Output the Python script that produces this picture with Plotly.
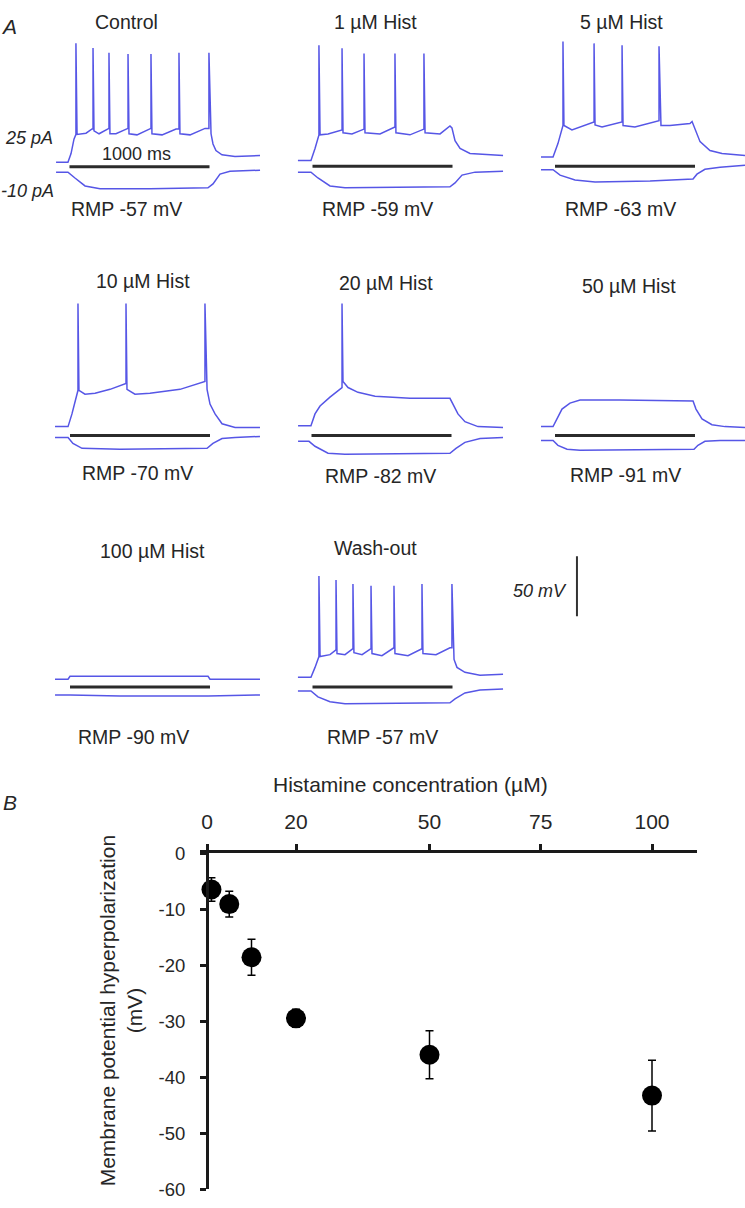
import plotly.graph_objects as go

# ---------------- DATA ----------------
# Panel A: membrane potential traces, time in ms relative to current-step onset,
# voltage in mV relative to the stimulus bar level (display offsets as in figure).
ctrl_up_t = [-96, -11, 11, 32, 46, 46, 54, 75, 118, 161, 168, 168, 175, 211, 261, 282, 282, 289, 332, 396, 418, 418, 425, 482, 561, 582, 582, 589, 661, 761, 782, 782, 789, 861, 968, 996, 996, 1011, 1025, 1046, 1089, 1182, 1361]
ctrl_up_v = [3.7, 3.7, 11, 23, 27, 103, 27, 27.5, 28, 31.5, 31.5, 99, 30, 27.5, 31, 32, 95, 27.5, 27.5, 31, 32, 94, 27.5, 26.6, 31, 32, 94, 27.5, 26.6, 31.5, 31.5, 95, 27.5, 26.6, 32, 32, 95, 27.5, 19, 13.5, 10, 8.6, 9.4]
ctrl_lo_t = [-96, -11, 39, 111, 218, 575, 989, 1025, 1075, 1146, 1361]
ctrl_lo_v = [-4.5, -4.5, -9.4, -16, -18.4, -18.4, -17.6, -14.3, -6.1, -3.7, -2.9]

h1_up_t = [-104, -11, 18, 46, 46, 54, 111, 204, 211, 211, 218, 282, 361, 368, 368, 375, 482, 582, 589, 589, 596, 696, 789, 796, 796, 804, 911, 982, 996, 1018, 1054, 1125, 1361]
h1_up_v = [4.9, 4.9, 14.8, 26.2, 101, 26.2, 27, 30.3, 30.3, 98.4, 27.9, 27, 31, 31, 94, 27.9, 27, 32.8, 32.8, 94, 27.9, 26.2, 31, 31, 94, 27.9, 27, 33.6, 32, 21.3, 14.8, 10.7, 9]
h1_lo_t = [-104, -11, 39, 125, 232, 982, 1018, 1068, 1161, 1361]
h1_lo_v = [-4.9, -4.9, -9.8, -16.4, -18, -17.2, -13.9, -7.4, -4.9, -4.1]

h5_up_t = [-100, -14, 21, 57, 57, 64, 121, 271, 279, 279, 286, 336, 464, 479, 479, 486, 571, 729, 743, 743, 757, 821, 964, 979, 1000, 1036, 1107, 1193, 1357]
h5_up_v = [7.8, 7.8, 18.9, 34, 104, 34, 30.3, 37, 37, 102.5, 34.4, 32.8, 37, 37, 101, 34, 32.8, 38, 38, 100, 34, 34, 35.7, 37.3, 31.5, 20.5, 13.1, 10.7, 9]
h5_lo_t = [-100, -14, 36, 143, 286, 679, 986, 1014, 1071, 1179, 1357]
h5_lo_v = [-2.9, -2.9, -7.4, -11.5, -13.1, -12.3, -10.7, -6.6, -2.5, -0.8, 0.8]

h10_up_t = [-107, -14, 14, 43, 57, 57, 64, 107, 179, 286, 393, 400, 400, 407, 464, 571, 786, 957, 964, 964, 979, 1000, 1036, 1086, 1179, 1357]
h10_up_v = [7.4, 7.4, 18, 32.8, 37.7, 110, 37.7, 34.4, 35.2, 38.5, 43.4, 43.4, 110, 38.5, 34.4, 35.2, 38.5, 45, 45, 110, 38.5, 26.2, 18, 9.8, 6.6, 6.6]
h10_lo_t = [-107, -14, 21, 86, 357, 979, 1021, 1086, 1179, 1357]
h10_lo_v = [-1.6, -1.6, -6.6, -10.7, -11.5, -10.7, -6.6, -2.5, -1.6, -0.8]

h20_up_t = [-96, -4, 25, 61, 132, 204, 218, 218, 225, 261, 332, 454, 704, 989, 1011, 1046, 1096, 1189, 1368]
h20_up_v = [8.2, 8.2, 18, 24.6, 32, 38.5, 40, 110, 45, 40, 36, 32.8, 31, 31, 26.2, 18, 11.5, 7.4, 6.6]
h20_lo_t = [-96, -18, 25, 118, 239, 989, 1032, 1096, 1204, 1368]
h20_lo_v = [-4.9, -4.9, -9, -14.8, -15.6, -14.8, -10.7, -5.7, -2.5, -1.6]

h50_up_t = [-100, -14, 14, 50, 107, 179, 464, 986, 1007, 1050, 1121, 1214, 1357]
h50_up_v = [7.4, 7.4, 13.9, 22, 27, 29.5, 29.5, 28.7, 22, 13.9, 9, 7.4, 6.6]
h50_lo_t = [-100, -14, 21, 86, 179, 993, 1021, 1071, 1179, 1357]
h50_lo_v = [-4.1, -4.1, -8.2, -11.5, -12.3, -11.5, -8.2, -4.9, -4.1, -4.1]

h100_up_t = [-107, -14, 0, 986, 1000, 1357]
h100_up_v = [6.6, 6.6, 9, 9, 6.6, 6.6]
h100_lo_t = [-107, 0, 357, 986, 1357]
h100_lo_v = [-6.6, -6.6, -7.4, -7.4, -6.6]

wash_up_t = [-104, -11, 18, 46, 46, 54, 125, 161, 168, 168, 175, 232, 282, 289, 289, 296, 354, 411, 418, 418, 425, 496, 575, 582, 582, 589, 682, 775, 782, 782, 789, 882, 982, 996, 996, 1011, 1032, 1089, 1196, 1361]
wash_up_v = [8.2, 8.2, 16.4, 25.4, 92.6, 25.4, 27, 31, 31, 89.3, 27.9, 27, 32, 32, 86, 28.7, 27, 32, 32, 84.4, 27.9, 26.2, 32.8, 32.8, 84.4, 27.9, 26.2, 32, 32, 86, 27.9, 27, 32.8, 32.8, 86, 23, 16.4, 12.3, 9.8, 10.7]
wash_lo_t = [-104, -11, 39, 125, 232, 982, 1018, 1089, 1196, 1361]
wash_lo_v = [-3.3, -3.3, -8.2, -12.3, -13.9, -13.1, -9.8, -4.9, -2.5, -1.6]

conditions = ["Control", "1 \u00b5M Hist", "5 \u00b5M Hist", "10 \u00b5M Hist", "20 \u00b5M Hist",
              "50 \u00b5M Hist", "100 \u00b5M Hist", "Wash-out"]
rmp_labels = ["RMP -57 mV", "RMP -59 mV", "RMP -63 mV", "RMP -70 mV", "RMP -82 mV",
              "RMP -91 mV", "RMP -90 mV", "RMP -57 mV"]
stim_t = [0, 1000]          # 1000 ms current step
scale_bar_mV = 50

# Panel B: dose-response
conc = [1, 5, 10, 20, 50, 100]
hyper_mean = [-6.5, -9.1, -18.6, -29.5, -36.0, -43.3]
hyper_err = [2.1, 2.3, 3.2, 1.6, 4.3, 6.3]
x_ticks = [0, 20, 50, 75, 100]
y_ticks = [0, -10, -20, -30, -40, -50, -60]

traces_data = [
    (ctrl_up_t, ctrl_up_v, ctrl_lo_t, ctrl_lo_v),
    (h1_up_t, h1_up_v, h1_lo_t, h1_lo_v),
    (h5_up_t, h5_up_v, h5_lo_t, h5_lo_v),
    (h10_up_t, h10_up_v, h10_lo_t, h10_lo_v),
    (h20_up_t, h20_up_v, h20_lo_t, h20_lo_v),
    (h50_up_t, h50_up_v, h50_lo_t, h50_lo_v),
    (h100_up_t, h100_up_v, h100_lo_t, h100_lo_v),
    (wash_up_t, wash_up_v, wash_lo_t, wash_lo_v),
]

# ---------------- LAYOUT ----------------
W, H = 745, 1208
KX = 0.14   # px per ms
KY = 1.22   # px per mV
FONT = "Arial, Liberation Sans, Helvetica, sans-serif"
TXT = "#262626"
BLUE = "#5656e6"
LBL = 19.5

# (onset px, bar px, title pos, rmp pos)
geom = [
    (69.5, 158.5, (126, 11), (127, 201)),
    (312.5, 158.0, (375, 11), (377, 201)),
    (555.0, 158.0, (621, 11), (620, 201)),
    (70.0, 432.0, (143, 275), (137, 470)),
    (311.5, 432.0, (386, 277), (380, 473)),
    (555.0, 432.0, (629, 280), (625, 472)),
    (70.0, 688.0, (152, 550), (133, 739)),
    (312.5, 688.0, (375, 547), (382, 739)),
]

fig = go.Figure()
layout = dict(width=W, height=H, margin=dict(l=0, r=0, t=0, b=0),
              paper_bgcolor="white", plot_bgcolor="rgba(0,0,0,0)",
              showlegend=False, font=dict(family=FONT, color=TXT, size=LBL))
annotations = []

def px_x(x):
    return x / W

def px_y(y):
    return 1 - y / H

for i, ((ut, uv, lt, lv), (x0, yb, tpos, rpos)) in enumerate(zip(traces_data, geom)):
    n = i + 1
    xa = "x" if n == 1 else f"x{n}"
    ya = "y" if n == 1 else f"y{n}"
    left = x0 - 20
    right = min(x0 + (290 if i == 7 else 200), W)
    top = max(yb - 160, 0)
    bottom = yb + 35
    layout["xaxis" if n == 1 else f"xaxis{n}"] = dict(
        domain=[px_x(left), px_x(right)], range=[(left - x0) / KX, (right - x0) / KX],
        visible=False, anchor=ya, fixedrange=True)
    layout["yaxis" if n == 1 else f"yaxis{n}"] = dict(
        domain=[px_y(bottom), px_y(top)], range=[(yb - bottom) / KY, (yb - top) / KY],
        visible=False, anchor=xa, fixedrange=True)
    fig.add_trace(go.Scatter(x=ut, y=uv, mode="lines", line=dict(color=BLUE, width=1.5),
                             xaxis=xa, yaxis=ya, hoverinfo="skip"))
    fig.add_trace(go.Scatter(x=lt, y=lv, mode="lines", line=dict(color=BLUE, width=1.5),
                             xaxis=xa, yaxis=ya, hoverinfo="skip"))
    fig.add_trace(go.Scatter(x=stim_t, y=[0, 0], mode="lines", line=dict(color="#2b2b2b", width=3),
                             xaxis=xa, yaxis=ya, hoverinfo="skip"))
    if i == 7:
        sb_t = 1889
        sb_base = 59
        fig.add_trace(go.Scatter(x=[sb_t, sb_t], y=[sb_base, sb_base + scale_bar_mV], mode="lines",
                                 line=dict(color="#333333", width=2), xaxis=xa, yaxis=ya,
                                 hoverinfo="skip"))
    annotations.append(dict(text=conditions[i], x=px_x(tpos[0]), y=px_y(tpos[1]), xref="paper",
                            yref="paper", showarrow=False, xanchor="center", yanchor="middle",
                            font=dict(size=LBL)))
    annotations.append(dict(text=rmp_labels[i], x=px_x(rpos[0]), y=px_y(rpos[1]), xref="paper",
                            yref="paper", showarrow=False, xanchor="center", yanchor="middle",
                            font=dict(size=LBL)))

# other labels
extra = [
    ("<i>A</i>", 9, 16, 21),
    ("<i>B</i>", 10, 805, 21),
    ("<i>25 pA</i>", 29, 129, 18),
    ("<i>-10 pA</i>", 28, 183, 18),
    ("1000 ms", 136, 146, 18),
    ("<i>50 mV</i>", 540, 590, 18),
    ("Histamine concentration (\u00b5M)", 411, 787, 21),
]
for txt, x, y, s in extra:
    annotations.append(dict(text=txt, x=px_x(x), y=px_y(y), xref="paper", yref="paper",
                            showarrow=False, xanchor="center", yanchor="middle", font=dict(size=s)))
annotations.append(dict(text="Membrane potential hyperpolarization<br>(mV)", x=px_x(121),
                        y=px_y(1018), xref="paper", yref="paper", showarrow=False,
                        textangle=-90, xanchor="center", yanchor="middle",
                        font=dict(size=21)))

# Panel B
ppu = 4.45                     # px per µM
bx_zero, bx1 = 207, 696.5
by0, by1 = 857, 1199
xr0 = -1.6
layout["xaxis9"] = dict(domain=[px_x(bx_zero + xr0 * ppu), px_x(bx1)],
                        range=[xr0, (bx1 - bx_zero) / ppu], side="top", anchor="y9",
                        showline=True, linecolor="#1a1a1a", linewidth=3, ticks="outside",
                        ticklen=6, tickwidth=3, tickcolor="#1a1a1a", tickvals=x_ticks,
                        ticktext=[str(v) for v in x_ticks], showgrid=False, zeroline=False,
                        tickfont=dict(size=21, color=TXT), ticklabelstandoff=7, fixedrange=True)
layout["yaxis9"] = dict(domain=[px_y(by1), px_y(by0)], range=[-60, 0], anchor="free",
                        position=px_x(bx_zero),
                        showline=True, linecolor="#1a1a1a", linewidth=3, ticks="outside",
                        ticklen=6, tickwidth=3, tickcolor="#1a1a1a", tickvals=y_ticks,
                        ticktext=[str(v) for v in y_ticks], showgrid=False, zeroline=False,
                        tickfont=dict(size=18.5, color=TXT), ticklabelstandoff=11,
                        ticklabeloverflow="allow", fixedrange=True)
fig.add_trace(go.Scatter(x=conc, y=hyper_mean, mode="markers", xaxis="x9", yaxis="y9",
                         marker=dict(color="black", size=20),
                         error_y=dict(type="data", array=hyper_err, visible=True,
                                      color="black", thickness=1.5, width=4),
                         cliponaxis=False))

layout["annotations"] = annotations
fig.update_layout(**layout)
fig.write_html("out.html", config={"displayModeBar": False},
               post_script="document.body.style.margin='0';document.body.style.overflow='hidden';")
